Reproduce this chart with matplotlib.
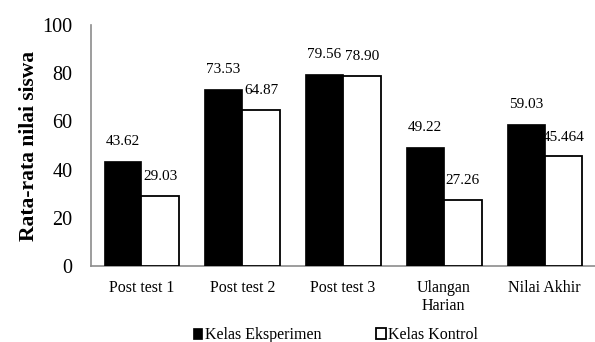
import matplotlib
matplotlib.use("Agg")
import matplotlib.pyplot as plt
import numpy as np

categories = ["Post test 1", "Post test 2", "Post test 3", "Ulangan\nHarian", "Nilai Akhir"]
eksperimen = [43.62, 73.53, 79.56, 49.22, 59.03]
kontrol = [29.03, 64.87, 78.90, 27.26, 45.464]
eksperimen_labels = ["43.62", "73.53", "79.56", "49.22", "59.03"]
kontrol_labels = ["29.03", "64.87", "78.90", "27.26", "45.464"]
yticks = [0, 20, 40, 60, 80, 100]

plt.rcParams["font.family"] = ["Liberation Serif", "DejaVu Serif"]

fig = plt.figure(figsize=(5.95, 3.42), dpi=100)
ax = fig.add_axes([0.153, 0.222, 0.847, 0.705])

x = np.arange(len(categories))
w = 0.375
b1 = ax.bar(x - w / 2, eksperimen, w, color="black", edgecolor="black",
            linewidth=0.5, label="Kelas Eksperimen", zorder=3)
b2 = ax.bar(x + w / 2, kontrol, w, color="white", edgecolor="black",
            linewidth=1.3, label="Kelas Kontrol", zorder=3)

for xi, v, t in zip(x - w / 2, eksperimen, eksperimen_labels):
    ax.annotate(t, (xi, v), xytext=(0, 14), textcoords="offset points",
                ha="center", va="center", fontsize=11, zorder=1)
for xi, v, t in zip(x + w / 2, kontrol, kontrol_labels):
    ax.annotate(t, (xi, v), xytext=(0, 14), textcoords="offset points",
                ha="center", va="center", fontsize=11, zorder=1)

ax.set_xlim(-0.5, len(categories) - 0.5)
ax.set_ylim(0, 100)
ax.set_yticks(yticks)
ax.set_yticklabels([str(t) for t in yticks], fontsize=14.5)
ax.set_xticks(x)
ax.set_xticklabels(categories, fontsize=11.5, linespacing=1.15)
ax.tick_params(axis="x", length=0, pad=10)
ax.tick_params(axis="y", length=0, pad=13.5)

for s in ["top", "right"]:
    ax.spines[s].set_visible(False)
for s in ["left", "bottom"]:
    ax.spines[s].set_color("#8c8c8c")
    ax.spines[s].set_linewidth(1.2)

ax.set_ylabel("Rata-rata nilai siswa", fontsize=15.5, fontweight="bold", labelpad=2)

fig.legend(handles=[b1, b2], loc="center", bbox_to_anchor=(0.564, 0.02),
           ncol=2, frameon=False, fontsize=11.5, handlelength=0.6,
           handleheight=0.6, handletextpad=0.15, columnspacing=3.45)

fig.savefig("out.png", dpi=100)
